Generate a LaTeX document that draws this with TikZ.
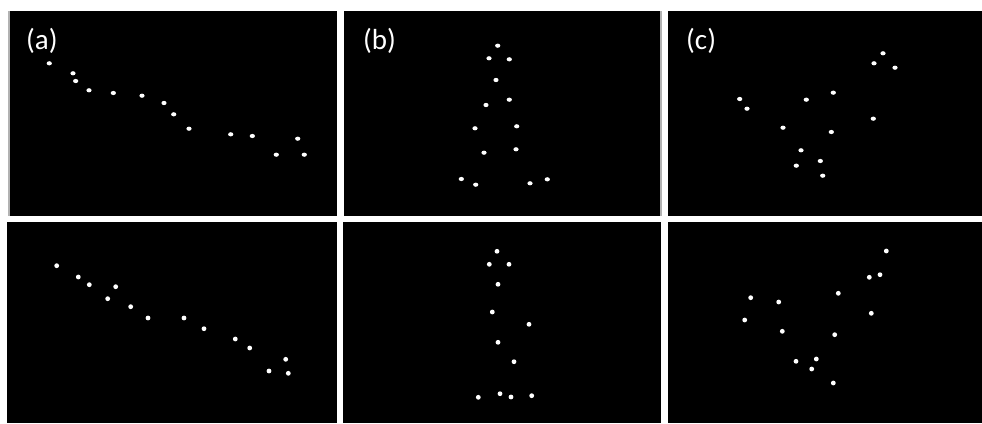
\documentclass[tikz,border=0pt]{standalone}
\usepackage{fontspec}
\setmainfont{Carlito}
\begin{document}
\begin{tikzpicture}[x=1pt,y=-1pt,
  panel/.style={fill=black,draw=none},
  tdot/.style={fill=white,draw=none},
  lbl/.style={text=white,font=\fontsize{29}{29}\selectfont,anchor=base west,inner sep=0pt}]
\useasboundingbox (0,0) rectangle (982,423);
\fill[white] (0,0) rectangle (982,423);
% panels
\fill[panel] (8,11) rectangle (337,216);
\fill[panel] (344,11) rectangle (661,216);
\fill[panel] (668,11) rectangle (982,216);
\fill[panel] (7,222) rectangle (337,423);
\fill[panel] (343,222) rectangle (661,423);
\fill[panel] (668,222) rectangle (982,423);
\fill[gray!60] (8,11) rectangle (10,216);
\fill[gray!60] (660,11) rectangle (662,216);
% labels
\node[lbl] (la) at (26,49) {(a)};
\node[lbl] (lb) at (363,49) {(b)};
\node[lbl] (lc) at (686,49) {(c)};
% top a
\foreach \p in {(49.3,63.3),(73,73.3),(75.7,81),(89,90.3),(113.3,93),(142,95.7),(164,103),(173.7,114.3),(189,128.7),(230.7,134.3),(252.3,136),(297.7,138.7),(276.3,154.7),(304.3,154.7)}
  \fill[tdot] \p ellipse (2.6 and 2.1);
% top b
\foreach \p in {(497.7,45.7),(489,58.3),(509.3,59.3),(496,80),(509.3,99.7),(486,105),(516.7,126.3),(475,128.3),(516,149.3),(484,152.7),(461.3,179),(475.7,184.7),(530,183.3),(547.3,179.3)}
  \fill[tdot] \p ellipse (2.6 and 2.1);
% top c
\foreach \p in {(883,53.3),(874,63.3),(895,67.7),(833.3,92.7),(806.3,99.7),(739.7,99),(747,108.7),(873.3,118.7),(783,127.7),(831.3,132),(801,150.3),(820.3,161),(796.3,165.7),(822.7,175.7)}
  \fill[tdot] \p ellipse (2.6 and 2.1);
% bottom a
\foreach \p in {(56.7,265.7),(78.3,277),(89.3,284.7),(115.7,286.7),(107.7,298.7),(130.7,306.7),(148,318),(184,318),(204,328.7),(235.3,339),(249.7,348),(285.7,359.3),(269,371),(288.3,373.3)}
  \fill[tdot] \p circle (2.4);
% bottom b
\foreach \p in {(497,251.3),(489.3,264.3),(509,264.3),(498,284.3),(492.3,312),(529,324.3),(498,342.3),(514,361.7),(500,393.7),(478.3,397.3),(511,397),(531.7,395.7)}
  \fill[tdot] \p circle (2.4);
% bottom c
\foreach \p in {(886.3,251),(880,274.7),(869.3,277.3),(838.3,293.3),(750.7,297.7),(778.7,302),(871.3,313.3),(744.7,320),(782.3,331.3),(834.7,334.7),(816.3,359),(796,361.3),(811.7,369),(833.3,383)}
  \fill[tdot] \p circle (2.4);
\end{tikzpicture}
\end{document}
